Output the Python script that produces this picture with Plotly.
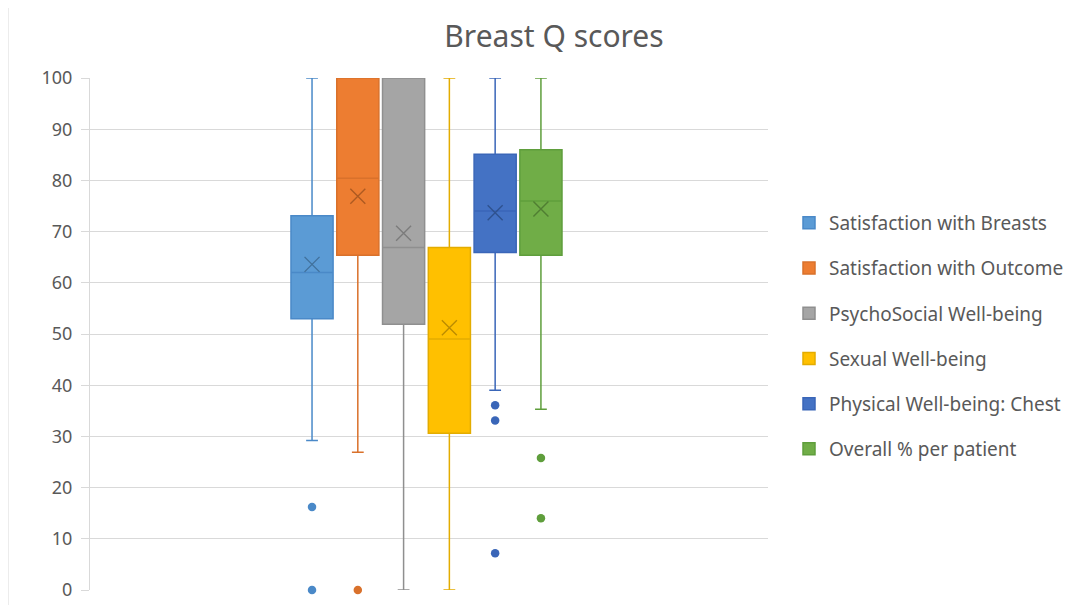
import plotly.graph_objects as go

# ---- data ----
series = ["Satisfaction with Breasts", "Satisfaction with Outcome", "PsychoSocial Well-being",
          "Sexual Well-being", "Physical Well-being: Chest", "Overall % per patient"]
lower_whisker = [29.2, 26.9, 0.0, 0.0, 39.0, 35.3]
q1_vals = [53.0, 65.4, 51.9, 30.6, 65.9, 65.4]
median_vals = [62.0, 80.4, 66.9, 49.0, 74.0, 76.0]
q3_vals = [73.1, 100.0, 100.0, 66.9, 85.1, 86.0]
upper_whisker = [100.0, 100.0, 100.0, 100.0, 100.0, 100.0]
mean_vals = [63.6, 76.9, 69.7, 51.2, 73.7, 74.4]
outliers = [[16.2, 0.0], [0.0], [], [], [36.1, 33.1, 7.2], [25.8, 14.0]]
y_ticks = [0, 10, 20, 30, 40, 50, 60, 70, 80, 90, 100]

# ---- styles ----
fills = ["#5B9BD5", "#ED7D31", "#A5A5A5", "#FFC000", "#4472C4", "#70AD47"]
lines = ["#4A89C8", "#D9712B", "#8F8F8F", "#E3AC00", "#3A66B8", "#5F9E3C"]
mean_cols = ["#41719C", "#AE5A21", "#7C7C7C", "#BC8C00", "#2F528F", "#507E32"]
text_col = "#595959"
grid_col = "#D9D9D9"
FONT = "Noto Sans"

# page body adds an 8px offset; figure sized to fit the window
W, H = 1068, 597
ML, MT, MB, PW = 82, 70, 15, 678
MR = W - ML - PW
PH = H - MT - MB

fig = go.Figure()
positions = list(range(len(series)))
for i, name in enumerate(series):
    fig.add_trace(go.Box(
        name=name, x=[positions[i]],
        q1=[q1_vals[i]], median=[median_vals[i]], q3=[q3_vals[i]],
        lowerfence=[lower_whisker[i]], upperfence=[upper_whisker[i]],
        width=0.92, whiskerwidth=0.28,
        fillcolor=fills[i], line=dict(color=lines[i], width=1.5),
        boxpoints=False, legendgroup=name, showlegend=True,
        hoverinfo="skip",
    ))
    fig.add_trace(go.Scatter(
        x=[positions[i]], y=[mean_vals[i]], mode="markers",
        marker=dict(symbol="x-thin-open", size=15, color=mean_cols[i],
                    line=dict(color=mean_cols[i], width=1.4)),
        legendgroup=name, showlegend=False, hoverinfo="skip", cliponaxis=False,
    ))
    if outliers[i]:
        fig.add_trace(go.Scatter(
            x=[positions[i]] * len(outliers[i]), y=outliers[i], mode="markers",
            marker=dict(symbol="circle", size=8.5, color=lines[i]),
            legendgroup=name, showlegend=False, hoverinfo="skip", cliponaxis=False,
        ))

fig.update_layout(
    width=W, height=H,
    margin=dict(l=ML, r=MR, t=MT, b=MB, autoexpand=False),
    paper_bgcolor="white", plot_bgcolor="white",
    font=dict(family=FONT, color=text_col),
    title=dict(text="Breast Q scores", x=546 / W, xref="container", xanchor="center",
               y=1 - 28 / H, yref="container", yanchor="middle",
               font=dict(size=30, color=text_col, family=FONT)),
    showlegend=True,
    legend=dict(x=(781 - ML) / PW, xanchor="left", y=(PH - 196 + MT) / PH, yanchor="top",
                font=dict(size=19, color=text_col, family=FONT),
                tracegroupgap=17.5, bgcolor="rgba(0,0,0,0)"),
    xaxis=dict(range=[-4.85, 9.96], showticklabels=False, showgrid=False, automargin=False,
               zeroline=False, showline=False, ticks=""),
    yaxis=dict(range=[0, 100], tickvals=y_ticks, showgrid=True, gridcolor=grid_col,
               gridwidth=1, zeroline=False, showline=True, linecolor=grid_col, linewidth=1,
               ticks="outside", ticklen=8, tickcolor=grid_col, ticklabelstandoff=5,
               automargin=False,
               tickfont=dict(size=18, color=text_col, family=FONT)),
)
fig.add_shape(type="line", xref="paper", yref="paper",
              x0=-ML / PW, x1=-ML / PW, y0=-(MB + 8) / PH, y1=(PH + MT) / PH,
              line=dict(color="#E6E6E6", width=1.5))

fig.write_html("out.html")
